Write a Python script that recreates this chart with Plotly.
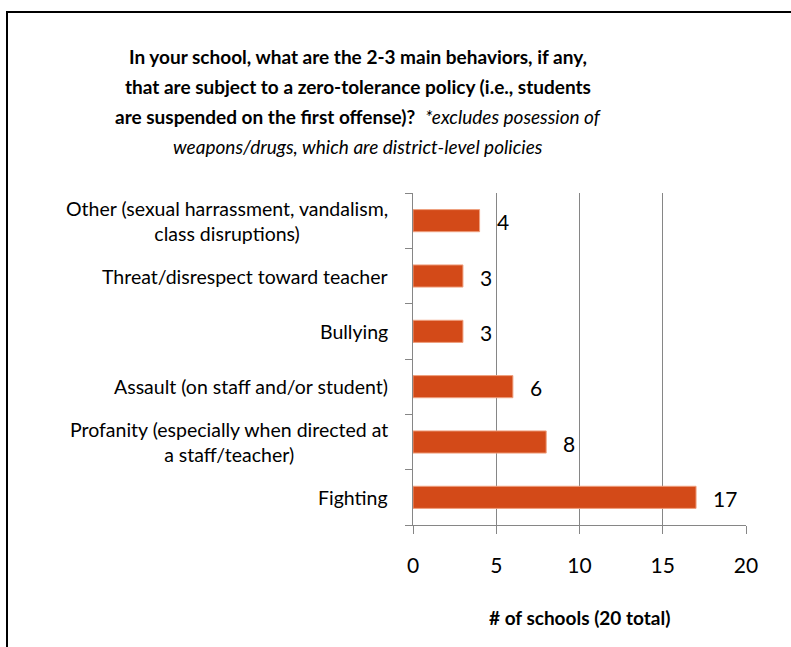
import plotly.graph_objects as go

# ---- data ----
categories = [
    "Fighting",
    "Profanity (especially when directed at<br>a staff/teacher)",
    "Assault (on staff and/or student)",
    "Bullying",
    "Threat/disrespect toward teacher",
    "Other (sexual harrassment, vandalism,<br>class disruptions)",
]
values = [17, 8, 6, 3, 3, 4]
x_ticks = [0, 5, 10, 15, 20]

title_lines = [
    "<b>In your school, what are the 2-3 main behaviors, if any,</b>",
    "<b>that are subject to a zero-tolerance policy (i.e., students</b>",
    "<b>are suspended on the first offense)?</b>  <i>*excludes posession of</i>",
    "<i>weapons/drugs, which are district-level policies</i>",
]
x_title = "<b># of schools (20 total)</b>"

# ---- layout geometry (pixels) ----
W, H = 791, 647
L, R, T, B = 413, 746, 193, 525
PW, PH = R - L, B - T

def px(xp):
    return (xp - L) / PW

def py(yp):
    return (B - yp) / PH

FONT = "Lato"
BAR = "#D34A18"
GRID = "#868686"

fig = go.Figure()
fig.add_trace(go.Bar(
    x=values, y=categories, orientation="h",
    marker=dict(color=BAR, line=dict(color="#EFA07F", width=1)),
    hoverinfo="skip",
))

annotations = []
# value labels
for c, v in zip(categories, values):
    annotations.append(dict(
        x=v, y=c, xref="x", yref="y", text=str(v), showarrow=False,
        xanchor="left", xshift=15, yshift=-1,
        font=dict(family=FONT, size=21, color="#000000"),
    ))
# category labels
for c in categories:
    annotations.append(dict(
        x=0, y=c, xref="paper", yref="y", text=c, showarrow=False,
        xanchor="right", xshift=-23, align="center",
        font=dict(family=FONT, size=19.5, color="#000000"),
    ))
# title lines
title_y = [56, 86, 116, 146]
for t, yy in zip(title_lines, title_y):
    annotations.append(dict(
        x=px(358), y=py(yy), xref="paper", yref="paper", text=t,
        showarrow=False, xanchor="center", yanchor="middle",
        font=dict(family=FONT, size=19, color="#000000"),
    ))
# x axis title
annotations.append(dict(
    x=0.5, y=py(617), xref="paper", yref="paper", text=x_title,
    showarrow=False, xanchor="center", yanchor="middle",
    font=dict(family=FONT, size=19, color="#000000"),
))

shapes = [dict(
    type="rect", xref="paper", yref="paper",
    x0=px(7), x1=px(830), y0=py(720), y1=py(12),
    line=dict(color="#000000", width=2), fillcolor="rgba(0,0,0,0)",
    layer="above",
)]

fig.update_layout(
    width=W, height=H,
    margin=dict(l=L, r=W - R, t=T, b=H - B, pad=0),
    paper_bgcolor="white", plot_bgcolor="white",
    showlegend=False, bargap=0.6,
    annotations=annotations, shapes=shapes,
    font=dict(family=FONT, color="#000000"),
)
fig.update_xaxes(
    range=[0, 20], tickvals=x_ticks, ticktext=[str(t) for t in x_ticks],
    showgrid=True, gridcolor=GRID, gridwidth=1,
    showline=True, linecolor=GRID, linewidth=1,
    ticks="outside", ticklen=8, tickcolor=GRID, tickwidth=1,
    ticklabelstandoff=14,
    tickfont=dict(family=FONT, size=21, color="#000000"),
    zeroline=False, fixedrange=True,
)
fig.update_yaxes(
    categoryorder="array", categoryarray=categories,
    showticklabels=False, tickson="boundaries",
    ticks="outside", ticklen=7, tickcolor=GRID, tickwidth=1,
    showline=True, linecolor=GRID, linewidth=1,
    showgrid=False, zeroline=False, fixedrange=True,
)

fig.write_html(
    "out.html",
    config={"displayModeBar": False},
    post_script="document.body.style.margin='0';document.body.style.overflow='hidden';",
)
